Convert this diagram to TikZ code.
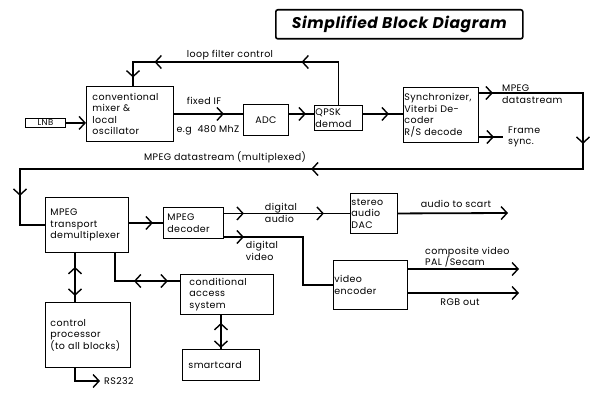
\documentclass[tikz,border=0pt]{standalone}
\usepackage{fontspec}
\setmainfont{Poppins}[LetterSpace=4]
\usetikzlibrary{arrows.meta,decorations.markings}

\tikzset{
  vee/.tip={Straight Barb[length=6pt,width=13pt,line width=1.4pt]},
  blk/.style={draw,line width=.9pt,anchor=north west,align=left,inner ysep=0pt,font=\fontsize{9.5}{11.5}\selectfont},
  lbl/.style={inner sep=0pt,align=left,font=\fontsize{9.5}{11.5}\selectfont},
  wire/.style={line width=1.8pt},
  arrat/.style={postaction={decorate,decoration={markings,mark=at position #1 with {\arrow{vee}}}}},
  rarrat/.style={postaction={decorate,decoration={markings,mark=at position #1 with {\arrowreversed{vee}}}}},
}

\begin{document}
\begin{tikzpicture}[x=1pt,y=-1pt]
\path[use as bounding box] (0,0) rectangle (600,401);
% title
\node[draw,line width=1.6pt,rounded corners=2pt,anchor=north west,minimum width=247pt,minimum height=29pt,inner sep=0pt,font=\fontsize{15.5}{18}\selectfont\bfseries\itshape] (title) at (275,9) {Simplified Block Diagram};
% front end
\node[blk,minimum width=40pt,minimum height=9pt,inner sep=0pt,text width=40pt,align=center,font=\fontsize{8.5}{9}\selectfont] (lnb) at (25,118) {LNB};
\node[blk,minimum width=87pt,minimum height=55pt,inner xsep=6pt,text width=75pt] (mixer) at (86,86) {conventional\\mixer \&\\local\\oscillator};
\node[blk,minimum width=45pt,minimum height=31pt,inner xsep=0pt,text width=45pt,align=center] (adc) at (243,104) {ADC};
\node[blk,minimum width=48pt,minimum height=25pt,inner xsep=1pt,text width=46pt] (qpsk) at (314,105) {QPSK\\demod};
\node[blk,minimum width=75pt,minimum height=55pt,inner xsep=1pt,text width=73pt] (sync) at (403,87) {Synchronizer,\\Viterbi De-\\coder\\R/S decode};
% back end
\node[blk,minimum width=83pt,minimum height=55pt,inner xsep=5pt,text width=73pt] (demux) at (45,197) {MPEG\\transport\\demultiplexer};
\node[blk,minimum width=60pt,minimum height=31pt,inner xsep=4pt,text width=52pt] (dec) at (163,207) {MPEG\\decoder};
\node[blk,minimum width=47pt,minimum height=40pt,inner xsep=1pt,text width=45pt] (dac) at (350,193) {stereo\\audio\\DAC};
\node[blk,minimum width=74pt,minimum height=49pt,inner xsep=1pt,text width=72pt] (venc) at (333,260) {video\\encoder};
\node[blk,minimum width=93pt,minimum height=40pt,inner xsep=9pt,text width=75pt] (cas) at (180,274) {conditional\\access\\system};
\node[blk,minimum width=77pt,minimum height=31pt,inner xsep=6pt,text width=65pt] (smart) at (182,349) {smartcard};
\node[blk,minimum width=85pt,minimum height=65pt,inner xsep=5pt,text width=75pt] (ctrl) at (45,302) {control\\processor\\(to all blocks)};

% free ends and bends
\coordinate (loopA) at (339,62);
\coordinate (loopB) at (133,62);
\coordinate (dsA) at (583,93);
\coordinate (dsB) at (583,169);
\coordinate (dsC) at (20,169);
\coordinate (fsync) at (503,137);
\coordinate (vbend) at (303,237);
\coordinate (scart) at (508,213);
\coordinate (cvbs) at (519,269);
\coordinate (rgb) at (519,293);
\coordinate (casin) at (180,281);
\coordinate (rs) at (100,381);

% connectors
\draw[wire,-vee] (lnb.east) -- (mixer.west |- lnb.east);
\draw[wire,arrat=50pt] (mixer.east) -- (mixer.east -| adc.west);
\draw[wire,arrat=17pt] (adc.east |- mixer.east) -- (qpsk.west |- mixer.east);
\draw[wire,arrat=26pt] (qpsk.east |- mixer.east) -- (sync.west |- mixer.east);
\draw[wire,arrat=80pt,arrat=227pt,arrat=264pt] (qpsk.north) -- (qpsk.north |- loopA) -- (loopB) -- (loopB |- mixer.north);
\draw[wire,arrat=14pt,arrat=155pt,arrat=452pt,arrat=770pt] (sync.east |- dsA) -- (dsA) -- (dsB) -- (dsC) |- (demux.west);
\draw[wire,arrat=15pt] (sync.east |- fsync) -- (fsync);
\draw[wire,arrat=24pt] (demux.east |- dec.west) -- (dec.west);
\draw[wire,arrat=20pt,arrat=100pt] (dec.east |- dac.west) -- (dac.west);
\draw[wire,arrat=20pt] (dec.east |- vbend) -- (vbend) |- (venc.west);
\draw[wire,-vee] (dac.east) -- (scart);
\draw[wire,-vee] (venc.east |- cvbs) -- (cvbs);
\draw[wire,-vee] (venc.east |- rgb) -- (rgb);
\draw[wire,rarrat=14pt,arrat=43pt] ([xshift=30pt]demux.south west) -- ([xshift=30pt]demux.south west |- ctrl.north);
\draw[wire,rarrat=47pt,arrat=81pt] ([xshift=70pt]demux.south west) |- (casin);
\draw[wire,rarrat=8pt,arrat=33pt] (smart.north |- cas.south) -- (smart.north);
\draw[wire,-vee] ([xshift=30pt]ctrl.south west) |- (rs);

% labels
\node[lbl] (loopl) at (230,55) {loop filter control};
\node[lbl] (fixl) at (204,101) {fixed IF};
\node[lbl] (mhzl) at (208,130) {e.g\ \ 480 MhZ};
\node[lbl,anchor=west] (dsl) at (502,94) {MPEG\\datastream};
\node[lbl,anchor=west] (fsl) at (508,137) {Frame\\sync.};
\node[lbl] (muxl) at (225,157) {MPEG datastream (multiplexed)};
\node[lbl] (audl) at (281,213) {digital\\audio};
\node[lbl] (vidl) at (262,251) {digital\\video};
\node[lbl] (scl) at (456,204) {audio to scart};
\node[lbl,anchor=west] (cvl) at (425,257) {composite video\\PAL /Secam};
\node[lbl] (rgbl) at (460,302) {RGB out};
\node[lbl,anchor=west] (rsl) at (104,381) {RS232};
\end{tikzpicture}
\end{document}
